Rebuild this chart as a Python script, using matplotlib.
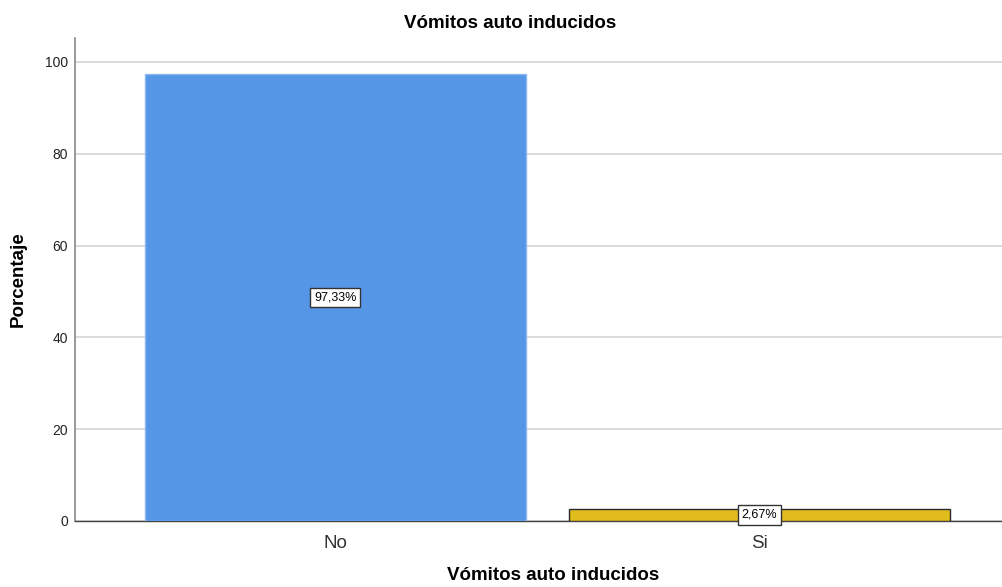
import matplotlib
matplotlib.use("Agg")
import matplotlib.pyplot as plt

categories = ["No", "Si"]
values = [97.33, 2.67]
labels = ["97,33%", "2,67%"]
yticks = [0, 20, 40, 60, 80, 100]
colors = ["#5596E6", "#E1BC1D"]
edges = ["#8DB8EE", "#2a2a2a"]

plt.rcParams['font.family'] = ['Liberation Sans', 'DejaVu Sans']

fig = plt.figure(figsize=(10.03, 5.87), dpi=100)
ax = fig.add_axes([75/1003, 1-521/587, 927/1003, (521-38)/587])

x = list(range(len(categories)))
bars = ax.bar(x, values, width=0.9, color=colors, edgecolor=edges, linewidth=1.0, zorder=3)
for xi, v, lab in zip(x, values, labels):
    ax.text(xi, v/2, lab, ha='center', va='center', fontsize=9, zorder=5,
            bbox=dict(boxstyle='square,pad=0.3', fc='white', ec='#333333', lw=1.0))

ax.set_xlim(-0.614, 1.572)
ax.set_ylim(0, 105.2)
ax.set_yticks(yticks)
ax.set_xticks(x)
ax.set_xticklabels(categories, fontsize=13.5, color='#333333')
ax.tick_params(axis='y', length=0, labelsize=10, pad=5, labelcolor='#222222')
ax.tick_params(axis='x', length=0, pad=10)
ax.yaxis.grid(True, color='#d4d4d4', lw=1.2, zorder=0)
ax.set_axisbelow(True)
for s in ['top', 'right']:
    ax.spines[s].set_visible(False)
ax.spines['left'].set_color('#888888')
ax.spines['left'].set_linewidth(1.2)
ax.spines['bottom'].set_color('#444444')
ax.spines['bottom'].set_linewidth(1.0)

fig.text(510/1003, 1-23/587, "Vómitos auto inducidos", ha='center', va='center',
         fontsize=13.5, fontweight='bold')
fig.text(553/1003, 1-576/587, "Vómitos auto inducidos", ha='center', va='center',
         fontsize=13.5, fontweight='bold')
fig.text(18/1003, 1-279/587, "Porcentaje", ha='center', va='center', rotation=90,
         fontsize=13.5, fontweight='bold')

fig.savefig("out.png", dpi=100, facecolor='white')
